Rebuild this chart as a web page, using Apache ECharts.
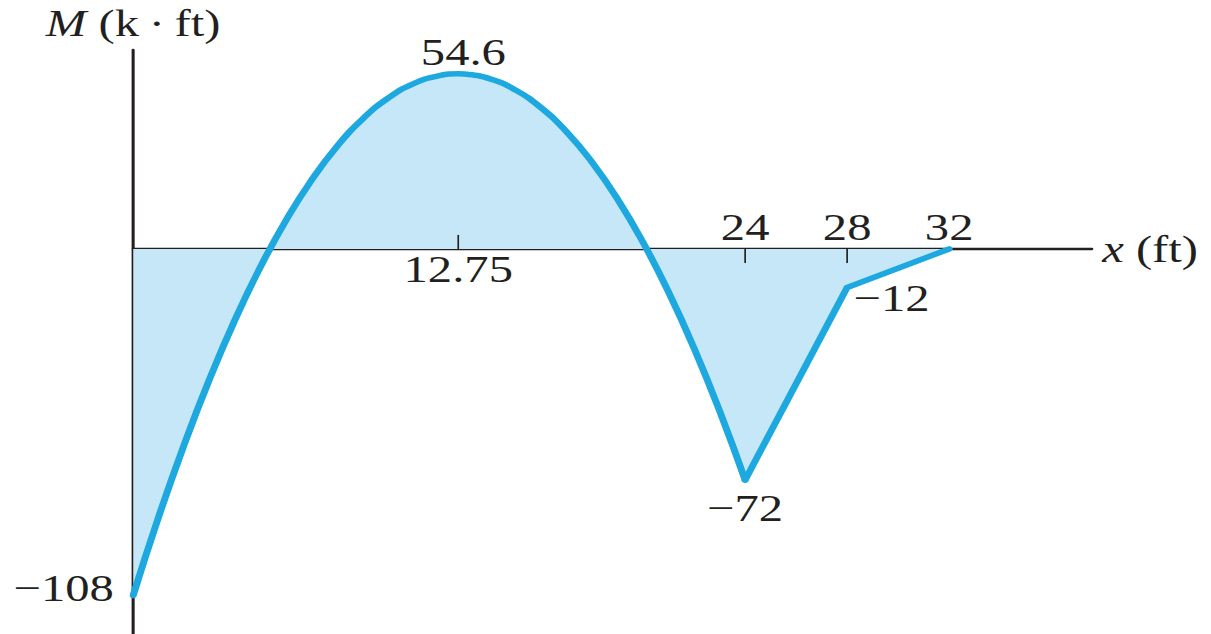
<!DOCTYPE html>
<html>
<head>
<meta charset="utf-8">
<script src="https://cdn.jsdelivr.net/npm/echarts@6/dist/echarts.min.js"></script>
<style>
html,body{margin:0;padding:0;background:#fff;overflow:hidden;}
/* the reference figure is drawn with a horizontal stretch; reproduce it */
#c{width:946px;height:634px;transform:scaleX(1.2801);transform-origin:0 0;}
</style>
</head>
<body>
<div id="c"></div>
<script>
// Bending moment M (k·ft) at positions x (ft)
const xPos = [0, 1, 2, 3, 4, 5, 6, 7, 8, 9, 10, 11, 12, 12.75, 13, 14, 15, 16, 17, 18, 19, 20, 21, 22, 23, 24, 28, 32];
const moment = [-108, -83.5, -61, -40.5, -22, -5.5, 9, 21.5, 32, 40.5, 47, 51.5, 54, 54.6, 54.5, 53, 49.5, 44, 36.5, 27, 15.5, 2, -13.5, -31, -50.5, -72, -12, 0];
const parabolaEnd = 24; // curved part ends here, straight segments follow

// Annotated values
const noteX = [12.75, 24, 28, 0];
const noteM = [54.6, -72, -12, -108];
const noteText = ['54.6', '\u221272', '\u221212', '\u2212108'];

// x-axis tick marks and labels
const tickAbove = [24, 28, 32];
const tickDown = [24, 28];
const tickBelow = [12.75];

const FONT = 'Liberation Serif';
const FS = 38;
const INK = '#231f20';
const LINE = '#1ea8e0';
const FILL = '#c6e7f7';

const notePlacement = [
  {position: 'top', distance: 3, offset: [4, 0]},
  {position: 'bottom', distance: 9, offset: [0, 0]},
  {position: 'right', distance: 5, offset: [0, 10]},
  {position: 'left', distance: 15, offset: [0, -8]}
];

const all = [], curve = [], straight = [];
xPos.forEach((x, i) => {
  all.push([x, moment[i]]);
  if (x <= parabolaEnd) curve.push([x, moment[i]]);
  if (x >= parabolaEnd) straight.push([x, moment[i]]);
});

const txt = {fontFamily: FONT, fontSize: FS, color: INK};
const solid = {opacity: 1};

const chart = echarts.init(document.getElementById('c'), null, {renderer: 'svg'});
chart.setOption({
  animation: false,
  backgroundColor: '#fff',
  grid: {left: 104, right: 93, top: 50, bottom: 0, containLabel: false},
  xAxis: {
    type: 'value', min: 0, max: 37.6,
    axisLine: {show: true, onZero: true, lineStyle: {color: INK, width: 2.3}},
    axisTick: {show: false}, axisLabel: {show: false}, splitLine: {show: false},
    name: '{i|x} (ft)', nameLocation: 'end', nameGap: 8,
    nameTextStyle: Object.assign({}, txt, {align: 'left', verticalAlign: 'middle',
      rich: {i: Object.assign({}, txt, {fontStyle: 'italic'})}})
  },
  yAxis: {
    type: 'value', min: -120, max: 62,
    axisLine: {show: true, lineStyle: {color: INK, width: 2.4}},
    axisTick: {show: false}, axisLabel: {show: false}, splitLine: {show: false},
    name: '{i|M} (k\u2009\u00b7\u2009ft)', nameLocation: 'end', nameGap: 8,
    nameTextStyle: Object.assign({}, txt, {align: 'center', verticalAlign: 'bottom',
      rich: {i: Object.assign({}, txt, {fontStyle: 'italic'})}})
  },
  series: [{
    // shaded area between the diagram and the axis
    type: 'line', data: all,
    showSymbol: false, symbol: 'none', smooth: false,
    lineStyle: {width: 0, opacity: 0},
    areaStyle: {color: FILL, opacity: 1},
    silent: true, z: 1
  }, {
    type: 'line', data: curve,
    showSymbol: false, symbol: 'none', smooth: 0.5,
    lineStyle: {color: LINE, width: 5.5, cap: 'round'},
    z: 3
  }, {
    type: 'line', data: straight,
    showSymbol: false, symbol: 'none', smooth: false,
    lineStyle: {color: LINE, width: 5.5, join: 'miter', cap: 'round'},
    z: 3
  }, {
    // tick marks pointing down from the axis
    type: 'scatter', data: tickDown.map(x => [x, 0]),
    symbol: 'rect', symbolSize: [1.3, 14], symbolOffset: [0, 7],
    itemStyle: {color: INK, opacity: 1}, silent: true, z: 4
  }, {
    // tick mark pointing up from the axis
    type: 'scatter', data: tickBelow.map(x => [x, 0]),
    symbol: 'rect', symbolSize: [1.3, 14], symbolOffset: [0, -7],
    itemStyle: {color: INK, opacity: 1}, silent: true, z: 4
  }, {
    // tick labels above the axis
    type: 'scatter', data: tickAbove.map(x => [x, 0]), symbolSize: 0,
    itemStyle: solid,
    label: Object.assign({show: true, position: 'top', distance: 3, formatter: p => String(p.value[0])}, txt),
    silent: true, z: 5
  }, {
    // tick label below the axis
    type: 'scatter', data: tickBelow.map(x => [x, 0]), symbolSize: 0,
    itemStyle: solid,
    label: Object.assign({show: true, position: 'bottom', distance: 1, formatter: p => String(p.value[0])}, txt),
    silent: true, z: 5
  }, {
    // value annotations
    type: 'scatter', symbolSize: 0, itemStyle: solid,
    data: noteX.map((x, i) => ({
      value: [x, noteM[i]],
      label: Object.assign({show: true, formatter: noteText[i]}, txt, notePlacement[i])
    })),
    silent: true, z: 5
  }]
});
</script>
</body>
</html>
